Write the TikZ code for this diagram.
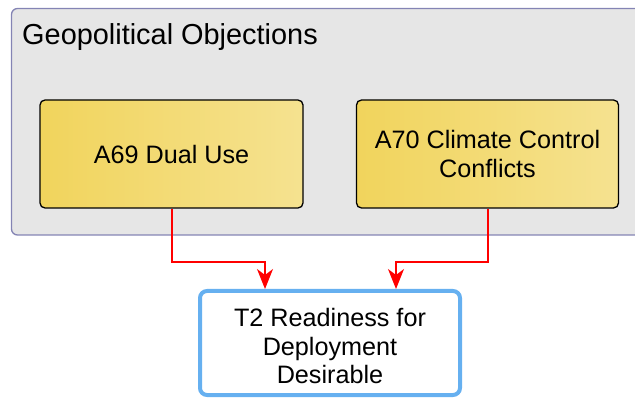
\documentclass[tikz,border=0pt]{standalone}
\usepackage{fontspec}
\setmainfont{Liberation Sans}
\usetikzlibrary{arrows.meta}
\definecolor{grpfill}{HTML}{E6E6E6}
\definecolor{grpline}{HTML}{8484B4}
\definecolor{yl}{HTML}{F1D45C}
\definecolor{yr}{HTML}{F5E290}
\definecolor{bluebd}{HTML}{66B0F0}
\definecolor{arr}{HTML}{FF0000}
\tikzset{
  txt/.style={align=center, font=\fontsize{25.2}{28.3}\selectfont, inner sep=0pt},
  grp/.style={draw=grpline, fill=grpfill, line width=1.3pt, rounded corners=6pt},
  ybox/.style={txt, draw=black, line width=1.3pt, rounded corners=5pt, left color=yl, right color=yr, minimum width=263pt, minimum height=108pt},
  tbox/.style={draw=bluebd, fill=white, line width=4pt, rounded corners=7pt, minimum width=260pt, minimum height=104pt, inner sep=0pt},
  conn/.style={draw=arr, line width=1.4pt, -{Stealth[length=20pt,width=16pt,inset=6pt]}}
}
\begin{document}
\begin{tikzpicture}[x=1pt,y=-1pt]
\useasboundingbox (0,0) rectangle (635,398);
\clip (0,0) rectangle (635,398);
\draw[grp] (11.5,8.5) rectangle (660,235);
\node[anchor=base west, font=\fontsize{28.9}{32}\selectfont, inner sep=0pt] (title) at (22,45) {Geopolitical Objections};
\node[ybox] (a69) at (171.5,154) {A69 Dual Use};
\node[ybox, minimum width=262pt] (a70) at (487.5,154) {A70 Climate Control\\Conflicts};
\node[tbox] (t2) at (330,343) {};
\node[txt] (t2txt) at ([yshift=-3pt]t2.center) {T2 Readiness for\\Deployment\\Desirable};
\coordinate (l1) at (172,262);
\coordinate (l2) at (265,262);
\coordinate (r1) at (488,262);
\coordinate (r2) at (396,262);
\draw[conn] (a69.south -| l1) -- (l1) -- (l2) -- (l2 |- t2.north);
\draw[conn] (a70.south -| r1) -- (r1) -- (r2) -- (r2 |- t2.north);
\end{tikzpicture}
\end{document}
